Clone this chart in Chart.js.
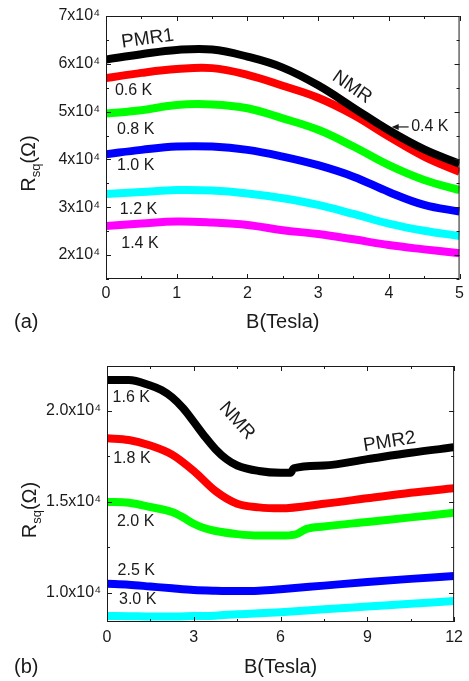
<!DOCTYPE html>
<html>
<head>
<meta charset="utf-8">
<title>Rsq vs B</title>
<script src="https://cdn.jsdelivr.net/npm/chart.js@4.4.1/dist/chart.umd.min.js"></script>
<style>
  html, body { margin: 0; padding: 0; background: #fff; }
  body { position: relative; width: 469px; height: 681px; overflow: hidden; }
  canvas { position: absolute; left: 0; }
  #chart-a { top: 0; }
  #chart-b { top: 340px; }
</style>
</head>
<body>
<canvas id="chart-a" width="469" height="340"></canvas>
<canvas id="chart-b" width="469" height="341"></canvas>
<script>
'use strict';

// Panel (a) data: field in Tesla, Rsq in ohm
const fieldA = [0, 0.5, 1, 1.5, 2, 2.5, 3, 3.5, 4, 4.5, 5];
const rsq04K = [60900, 62000, 62900, 63000, 61500, 59200, 55500, 50800, 46100, 42100, 39100];
const rsq06K = [57000, 58100, 58900, 59100, 57700, 55400, 52900, 49300, 44800, 40600, 37400];
const rsq08K = [49600, 50300, 51400, 51500, 50700, 48600, 46200, 42700, 38800, 35700, 33600];
const rsq10K = [41100, 42000, 42700, 42700, 42000, 40600, 38800, 36400, 33200, 30500, 29100];
const rsq12K = [32800, 33200, 33600, 33500, 32900, 31900, 30500, 28600, 26600, 25100, 24000];
const rsq14K = [26100, 26600, 27000, 26800, 26300, 25200, 24400, 23300, 22100, 21200, 20400];

// Panel (b) data
const fieldB = [0, 0.75, 1.5, 2.25, 3, 3.75, 4.5, 5.25, 6, 7.5, 9, 10.5, 12];
const fieldB16 = [0, 0.75, 1.5, 1.88, 2.25, 2.63, 3, 3.38, 3.75, 4.13, 4.5, 5.25, 6, 6.35, 6.45, 7.5, 9, 10.5, 12];
const fieldB20 = [0, 0.75, 1.5, 2.25, 2.63, 3, 3.38, 3.75, 4.5, 5.25, 6, 6.5, 6.9, 7.5, 9, 10.5, 12];
const rsq16K = [21700, 21700, 21400, 21150, 20750, 20150, 19400, 18600, 17900, 17350, 17000, 16700, 16600, 16600, 16850, 17000, 17350, 17700, 18000];
const rsq18K = [18500, 18400, 18100, 17600, 16700, 15600, 14900, 14700, 14650, 14900, 15200, 15500, 15750];
const rsq20K = [15000, 14950, 14720, 14450, 14150, 13800, 13550, 13400, 13230, 13150, 13150, 13200, 13520, 13650, 13900, 14150, 14400];
const rsq25K = [10500, 10450, 10350, 10250, 10160, 10120, 10100, 10120, 10200, 10400, 10600, 10770, 10930];
const rsq30K = [8730, 8720, 8700, 8700, 8730, 8750, 8830, 8880, 8940, 9100, 9250, 9400, 9550];

// Axis ticks
const xMajorA = [0, 1, 2, 3, 4, 5];
const xMinorA = [0.5, 1.5, 2.5, 3.5, 4.5];
const yMajorA = [20000, 30000, 40000, 50000, 60000, 70000];
const yMinorA = [15000, 25000, 35000, 45000, 55000, 65000];
const yLabelsA = ['2x10⁴', '3x10⁴', '4x10⁴', '5x10⁴', '6x10⁴', '7x10⁴'];

const xMajorB = [0, 3, 6, 9, 12];
const xMinorB = [1.5, 4.5, 7.5, 10.5];
const yMajorB = [10000, 15000, 20000];
const yMinorB = [12500, 17500];
const yLabelsB = ['1.0x10⁴', '1.5x10⁴', '2.0x10⁴'];

const FONT = '"Liberation Sans", Arial, Helvetica, sans-serif';
const INK = '#1a1a1a';

// Build one line dataset
const makeDataset = (xs, ys, color, mode) => ({
  data: xs.map((b, i) => ({ x: b, y: ys[i] })),
  borderColor: color,
  borderWidth: 8,
  pointRadius: 0,
  fill: false,
  tension: 0.4,
  cubicInterpolationMode: mode || 'default',
  clip: 0,
});

// Rotated text helper
const drawText = (ctx, text, px, py, size, rot) => {
  ctx.save();
  ctx.translate(px, py);
  ctx.rotate((rot || 0) * Math.PI / 180);
  ctx.font = `${size}px ${FONT}`;
  ctx.fillStyle = INK;
  ctx.textAlign = 'center';
  ctx.textBaseline = 'middle';
  ctx.fillText(text, 0, 0);
  ctx.restore();
};

// R_sq(Ω) vertical title
const drawRsqTitle = (ctx, px, py) => {
  ctx.save();
  ctx.translate(px, py);
  ctx.rotate(-Math.PI / 2);
  ctx.fillStyle = INK;
  ctx.textAlign = 'left';
  ctx.textBaseline = 'alphabetic';
  const big = `20px ${FONT}`, small = `13px ${FONT}`;
  ctx.font = big;
  const wR = ctx.measureText('R').width, wP = ctx.measureText('(Ω)').width;
  ctx.font = small;
  const wS = ctx.measureText('sq').width;
  let x = -(wR + wS + wP) / 2;
  ctx.font = big;
  ctx.fillText('R', x, 0);
  x += wR;
  ctx.font = small;
  ctx.fillText('sq', x, 5);
  x += wS;
  ctx.font = big;
  ctx.fillText('(Ω)', x, 0);
  ctx.restore();
};

// Frame, inward ticks, titles and notes
const panelPlugin = (cfg) => ({
  id: 'panel',
  afterDraw(chart) {
    const { ctx, chartArea: a, scales: { x, y } } = chart;
    ctx.save();
    ctx.strokeStyle = INK;
    ctx.lineWidth = 1;
    ctx.strokeRect(a.left + 0.5, a.top + 0.5, a.right - a.left - 1, a.bottom - a.top - 1);

    const xMarks = (vals, len) => vals.forEach(v => {
      const px = Math.round(x.getPixelForValue(v)) + 0.5;
      ctx.beginPath();
      ctx.moveTo(px, a.bottom); ctx.lineTo(px, a.bottom - len);
      ctx.moveTo(px, a.top); ctx.lineTo(px, a.top + len);
      ctx.stroke();
    });
    const yMarks = (vals, len) => vals.forEach(v => {
      const py = Math.round(y.getPixelForValue(v)) + 0.5;
      ctx.beginPath();
      ctx.moveTo(a.left, py); ctx.lineTo(a.left + len, py);
      ctx.moveTo(a.right, py); ctx.lineTo(a.right - len, py);
      ctx.stroke();
    });
    xMarks(cfg.xMajor, 5);
    xMarks(cfg.xMinor, 3);
    yMarks(cfg.yMajor, 5);
    yMarks(cfg.yMinor, 3);
    ctx.restore();

    // notes placed in data coordinates
    cfg.notes.forEach(n => {
      drawText(ctx, n.text, x.getPixelForValue(n.b), y.getPixelForValue(n.r), n.size, n.rot);
    });
    if (cfg.arrow) {
      const x0 = x.getPixelForValue(cfg.arrow.from[0]), y0 = y.getPixelForValue(cfg.arrow.from[1]);
      const x1 = x.getPixelForValue(cfg.arrow.to[0]), y1 = y.getPixelForValue(cfg.arrow.to[1]);
      ctx.save();
      ctx.strokeStyle = INK;
      ctx.fillStyle = INK;
      ctx.lineWidth = 1.2;
      ctx.beginPath();
      ctx.moveTo(x0, y0); ctx.lineTo(x1 + 5, y1);
      ctx.stroke();
      ctx.beginPath();
      ctx.moveTo(x1, y1); ctx.lineTo(x1 + 7, y1 - 3); ctx.lineTo(x1 + 7, y1 + 3);
      ctx.closePath();
      ctx.fill();
      ctx.restore();
    }

    const cx = (a.left + a.right) / 2;
    drawText(ctx, 'B(Tesla)', cx, a.bottom + cfg.xTitleGap, 20, 0);
    drawRsqTitle(ctx, a.left - 71, (a.top + a.bottom) / 2 + 16);
    ctx.save();
    ctx.font = `20px ${FONT}`;
    ctx.fillStyle = INK;
    ctx.textAlign = 'left';
    ctx.textBaseline = 'middle';
    ctx.fillText(cfg.tag, 14, a.bottom + cfg.xTitleGap);
    ctx.restore();
  },
});

// Chart settings
const buildChart = (id, datasets, cfg) => new Chart(document.querySelector(id), {
  type: 'line',
  data: { datasets },
  options: {
    responsive: false,
    animation: false,
    devicePixelRatio: 1,
    layout: { padding: cfg.padding },
    plugins: { legend: { display: false }, tooltip: { enabled: false } },
    scales: {
      x: {
        type: 'linear',
        min: cfg.xRange[0],
        max: cfg.xRange[1],
        afterBuildTicks: s => { s.ticks = cfg.xMajor.map(v => ({ value: v })); },
        afterFit: s => { s.height = cfg.xHeight; },
        grid: { display: false, drawTicks: false },
        border: { display: false },
        ticks: {
          autoSkip: false,
          maxRotation: 0,
          padding: cfg.xPad,
          color: INK,
          font: { family: FONT, size: 16 },
          callback: v => String(v),
        },
      },
      y: {
        type: 'linear',
        min: cfg.yRange[0],
        max: cfg.yRange[1],
        afterBuildTicks: s => { s.ticks = cfg.yMajor.map(v => ({ value: v })); },
        afterFit: s => { s.width = cfg.yWidth; },
        grid: { display: false, drawTicks: false },
        border: { display: false },
        ticks: {
          autoSkip: false,
          padding: 6,
          color: INK,
          font: { family: FONT, size: 16 },
          callback: (v, i) => cfg.yLabels[i],
        },
      },
    },
  },
  plugins: [panelPlugin(cfg)],
});

buildChart('#chart-a', [
  makeDataset(fieldA, rsq04K, '#000000'),
  makeDataset(fieldA, rsq06K, '#ff0000'),
  makeDataset(fieldA, rsq08K, '#00ff00'),
  makeDataset(fieldA, rsq10K, '#0000ff'),
  makeDataset(fieldA, rsq12K, '#00ffff'),
  makeDataset(fieldA, rsq14K, '#ff00ff'),
], {
  padding: { left: 0, right: 8, top: 16, bottom: 0 },
  xRange: [0, 5], yRange: [15000, 70000],
  xMajor: xMajorA, xMinor: xMinorA, yMajor: yMajorA, yMinor: yMinorA, yLabels: yLabelsA,
  xHeight: 61, yWidth: 106, xPad: 5, xTitleGap: 43, tag: '(a)',
  notes: [
    { text: 'PMR1', b: 0.59, r: 65200, size: 19, rot: -8 },
    { text: '0.6 K', b: 0.39, r: 54300, size: 16 },
    { text: '0.8 K', b: 0.42, r: 46300, size: 16 },
    { text: '1.0 K', b: 0.42, r: 38700, size: 16 },
    { text: '1.2 K', b: 0.46, r: 29600, size: 16 },
    { text: '1.4 K', b: 0.48, r: 22500, size: 16 },
    { text: 'NMR', b: 3.48, r: 55100, size: 19, rot: 35 },
    { text: '0.4 K', b: 4.58, r: 46800, size: 16 },
  ],
  arrow: { from: [4.28, 46800], to: [4.04, 46800] },
});

buildChart('#chart-b', [
  makeDataset(fieldB16, rsq16K, '#000000', 'monotone'),
  makeDataset(fieldB, rsq18K, '#ff0000', 'monotone'),
  makeDataset(fieldB20, rsq20K, '#00ff00', 'monotone'),
  makeDataset(fieldB, rsq25K, '#0000ff', 'monotone'),
  makeDataset(fieldB, rsq30K, '#00ffff', 'monotone'),
], {
  padding: { left: 0, right: 12, top: 26, bottom: 0 },
  xRange: [0, 12], yRange: [8400, 22470],
  xMajor: xMajorB, xMinor: xMinorB, yMajor: yMajorB, yMinor: yMinorB, yLabels: yLabelsB,
  xHeight: 59, yWidth: 107, xPad: 6, xTitleGap: 45, tag: '(b)',
  notes: [
    { text: '1.6 K', b: 0.84, r: 20740, size: 16 },
    { text: '1.8 K', b: 0.86, r: 17360, size: 16 },
    { text: '2.0 K', b: 0.99, r: 13900, size: 16 },
    { text: '2.5 K', b: 1.01, r: 11210, size: 16 },
    { text: '3.0 K', b: 1.06, r: 9640, size: 16 },
    { text: 'NMR', b: 4.49, r: 19450, size: 19, rot: 48 },
    { text: 'PMR2', b: 9.77, r: 18300, size: 19, rot: -9 },
  ],
});
</script>
</body>
</html>
